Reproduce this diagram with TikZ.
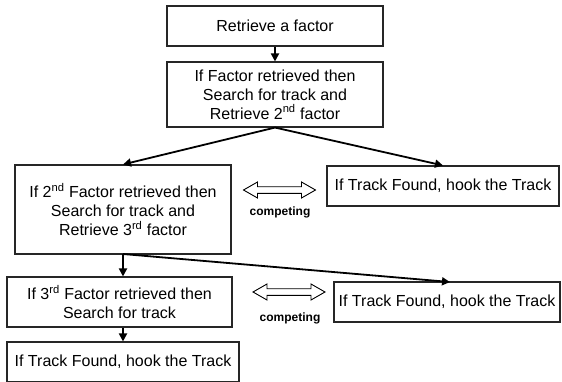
\documentclass[tikz,border=0pt]{standalone}
\usepackage{fontspec}
\setmainfont{Liberation Sans}
\usetikzlibrary{arrows.meta}
\begin{document}
\begin{tikzpicture}[x=1bp,y=-1bp,
  box/.style={draw=black!85,line width=1.1bp,inner sep=0pt,align=center,
    font=\fontsize{16bp}{19bp}\selectfont},
  flow/.style={line width=1.8bp,-{Triangle[length=8bp,width=8bp]}},
  clabel/.style={font=\fontsize{12bp}{14bp}\selectfont\bfseries,inner sep=0pt},
  dblarrow/.pic={\draw[line width=0.9bp,fill=white]
    (-36,0) -- (-22,-8) -- (-22,-3.3) -- (22,-3.3) -- (22,-8) -- (36,0)
    -- (22,8) -- (22,3.3) -- (-22,3.3) -- (-22,8) -- cycle;}]
\useasboundingbox (0,0) rectangle (562,381);
\node[box,minimum width=216bp,minimum height=40bp] (b1) at (275,26) {Retrieve a factor};
\node[box,minimum width=216bp,minimum height=65bp] (b2) at (275,94.5)
  {If Factor retrieved then\\Search for track and\\Retrieve 2\textsuperscript{nd} factor};
\node[box,minimum width=216bp,minimum height=89bp] (b3) at (123,209.5)
  {If 2\textsuperscript{nd} Factor retrieved then\\Search for track and\\Retrieve 3\textsuperscript{rd} factor};
\node[box,minimum width=232bp,minimum height=40bp] (b4) at (443,186) {If Track Found, hook the Track};
\node[box,minimum width=225bp,minimum height=50bp] (b5) at (119.5,302)
  {If 3\textsuperscript{rd} Factor retrieved then\\Search for track};
\node[box,minimum width=232bp,minimum height=40bp] (b6) at (123,362) {If Track Found, hook the Track};
\node[box,minimum width=226bp,minimum height=40bp] (b7) at (447,302) {If Track Found, hook the Track};
\coordinate (t7) at (450,282);
\coordinate (s3) at (123,254);
\draw[flow] (b1.south) -- (b2.north);
\draw[flow] (b2.south) -- (b3.north);
\draw[flow] (b2.south) -- (b4.north);
\draw[flow] (s3) -- (s3 |- b5.north);
\draw[flow] (s3) -- (t7);
\draw[flow] (b5.south -| s3) -- (s3 |- b6.north);
\pic at (279.5,190) {dblarrow};
\pic at (289,292) {dblarrow};
\node[clabel] (c1) at (280,212) {competing};
\node[clabel] (c2) at (290,318) {competing};
\end{tikzpicture}
\end{document}
